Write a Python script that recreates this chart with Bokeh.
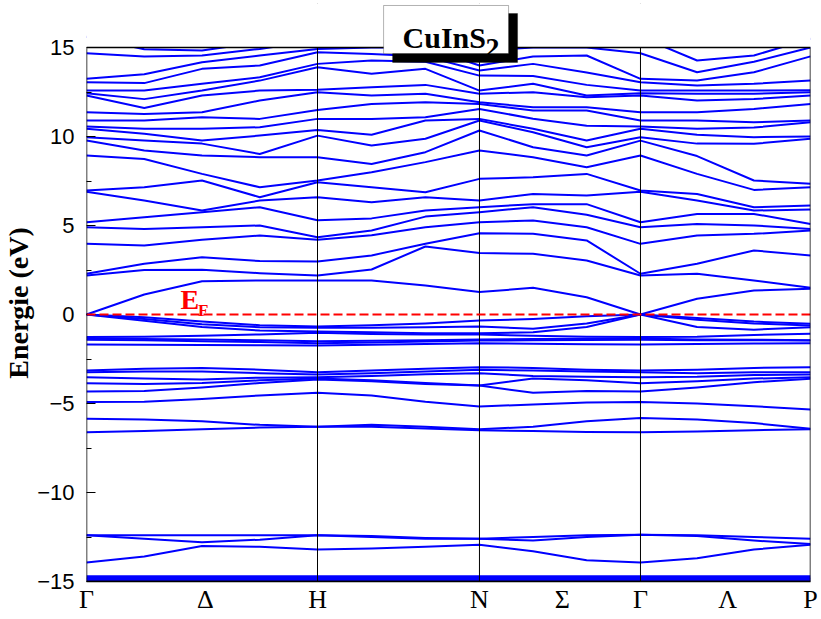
from bokeh.plotting import figure
from bokeh.models import ColumnDataSource, Range1d, FixedTicker, Span, Label, BoxAnnotation
from bokeh.embed import file_html
from bokeh.resources import INLINE

# ---------------- data ----------------
# k-path nodes (Γ, H, N, Γ, P) and label positions
k_nodes = [0.0, 1.0, 1.701, 2.398, 3.134]
k_label_pos = [0.0, 0.515, 1.0, 1.701, 2.06, 2.398, 2.775, 3.134]
k_labels = ["Γ", "Δ", "H", "N", "Σ", "Γ", "Λ", "P"]
# sampled k columns: Γ, 3 interior, H, 2 interior, N, 2 interior, Γ, 2 interior, P
k_cols = [0.0, 0.25, 0.5, 0.75, 1.0, 1.234, 1.467, 1.701, 1.933, 2.165, 2.398, 2.643, 2.889, 3.134]

# In 4d (flat, near -15 eV)
d_bands = [
    [-14.70] * 14,
    [-14.80] * 14,
    [-14.88] * 14,
    [-14.95] * 14,
]
# S 3s bands
s_bands = [
    [-12.40, -12.40, -12.40, -12.40, -12.40, -12.45, -12.55, -12.60, -12.50, -12.40, -12.38, -12.40, -12.50, -12.60],
    [-12.40, -12.60, -12.80, -12.65, -12.40, -12.50, -12.60, -12.60, -12.70, -12.50, -12.38, -12.45, -12.70, -12.90],
    [-13.93, -13.60, -13.00, -13.05, -13.20, -13.15, -13.05, -12.94, -13.30, -13.80, -13.93, -13.70, -13.20, -12.94],
]
# valence bands (-7 .. 0 eV)
v_bands = [
    [0.00, -0.15, -0.40, -0.60, -0.67, -0.60, -0.50, -0.34, -0.25, -0.10, 0.00, -0.20, -0.40, -0.52],
    [0.00, -0.25, -0.55, -0.72, -0.75, -0.75, -0.72, -0.67, -0.80, -0.50, 0.00, -0.30, -0.50, -0.62],
    [0.00, -0.35, -0.70, -0.90, -0.95, -1.00, -1.05, -1.05, -1.00, -0.70, 0.00, -0.70, -0.85, -0.71],
    [-1.27, -1.25, -1.20, -1.12, -1.03, -1.10, -1.12, -1.12, -1.20, -1.25, -1.27, -1.25, -1.15, -1.08],
    [-1.35, -1.38, -1.40, -1.45, -1.50, -1.48, -1.45, -1.40, -1.38, -1.36, -1.35, -1.40, -1.42, -1.44],
    [-1.42, -1.45, -1.50, -1.55, -1.61, -1.58, -1.52, -1.46, -1.45, -1.43, -1.42, -1.44, -1.45, -1.46],
    [-1.68, -1.70, -1.72, -1.73, -1.74, -1.70, -1.66, -1.61, -1.65, -1.67, -1.68, -1.66, -1.63, -1.61],
    [-3.14, -3.05, -3.00, -3.10, -3.24, -3.15, -3.05, -2.96, -3.00, -3.10, -3.14, -3.10, -3.00, -2.96],
    [-3.24, -3.20, -3.20, -3.30, -3.37, -3.30, -3.20, -3.11, -3.15, -3.20, -3.24, -3.30, -3.25, -3.24],
    [-3.52, -3.60, -3.65, -3.55, -3.52, -3.45, -3.35, -3.30, -3.45, -3.50, -3.52, -3.50, -3.40, -3.37],
    [-3.86, -3.90, -3.85, -3.70, -3.60, -3.70, -3.85, -3.99, -3.60, -3.70, -3.86, -3.75, -3.60, -3.52],
    [-4.33, -4.30, -4.10, -3.85, -3.65, -3.75, -3.90, -3.99, -4.40, -4.30, -4.33, -4.10, -3.80, -3.61],
    [-4.92, -4.90, -4.75, -4.55, -4.40, -4.55, -4.90, -5.17, -5.05, -4.95, -4.92, -5.00, -5.15, -5.34],
    [-5.86, -5.90, -6.00, -6.20, -6.30, -6.20, -6.30, -6.45, -6.30, -6.00, -5.82, -5.90, -6.10, -6.42],
    [-6.61, -6.55, -6.45, -6.35, -6.30, -6.30, -6.40, -6.50, -6.55, -6.60, -6.61, -6.58, -6.50, -6.45],
]
# conduction bands (0 .. 15 eV): sorted energies read at each k column
cb_G  = [0.00, 2.19, 2.29, 3.97, 4.90, 5.18, 6.90, 6.97, 8.93, 9.77, 9.96, 10.43, 10.56, 10.90, 11.36, 12.30, 12.43, 12.58, 13.05, 13.24, 14.68, 15.60]
cb_c1 = [1.12, 2.50, 2.85, 3.88, 4.81, 5.47, 6.40, 7.15, 8.74, 9.21, 9.77, 10.15, 10.43, 10.90, 11.27, 11.60, 12.10, 12.58, 13.00, 13.50, 14.50, 14.90]
cb_c2 = [1.87, 2.51, 3.22, 4.20, 4.90, 5.75, 5.84, 7.53, 7.90, 8.93, 9.60, 9.77, 10.43, 11.08, 11.36, 12.30, 12.58, 12.96, 13.80, 14.17, 14.55, 14.83]
cb_c3 = [1.91, 2.32, 3.00, 4.44, 5.00, 6.03, 6.40, 6.59, 7.15, 8.84, 9.02, 10.05, 10.52, 10.99, 12.02, 12.58, 13.14, 13.33, 13.99, 14.55, 14.92, 15.30]
cb_H  = [1.91, 2.19, 2.98, 4.20, 4.34, 5.30, 6.59, 7.43, 7.53, 8.84, 10.05, 10.37, 10.99, 11.49, 12.49, 12.62, 13.89, 14.08, 14.73, 14.92, 15.40, 15.80]
cb_c5 = [1.91, 2.53, 3.32, 4.45, 4.72, 5.40, 6.31, 7.15, 7.99, 8.46, 9.49, 10.10, 10.99, 11.83, 12.30, 12.77, 13.52, 14.27, 14.64, 15.00, 15.40, 15.80]
cb_c6 = [1.63, 3.82, 3.97, 4.90, 5.50, 5.84, 6.59, 6.87, 8.56, 9.12, 9.87, 10.90, 11.08, 11.93, 12.40, 12.90, 13.80, 14.20, 14.50, 15.00, 15.40, 15.80]
cb_N  = [1.26, 3.45, 4.57, 5.18, 5.75, 6.03, 6.40, 7.62, 9.21, 10.34, 10.90, 10.99, 11.55, 11.83, 11.93, 12.40, 12.58, 13.42, 13.71, 13.99, 14.83, 15.50]
cb_c8 = [1.50, 3.41, 4.53, 5.28, 6.03, 6.20, 6.77, 7.71, 8.84, 9.40, 10.24, 10.43, 11.00, 11.46, 11.64, 12.49, 12.96, 13.40, 14.08, 14.50, 15.00, 15.50]
cb_c9 = [0.97, 3.03, 4.16, 4.90, 5.60, 6.20, 6.68, 7.90, 8.27, 8.93, 9.40, 9.77, 10.60, 11.46, 11.64, 12.20, 12.30, 12.90, 13.60, 14.55, 15.00, 15.50]
cb_c11 = [0.88, 2.29, 2.85, 4.44, 5.09, 5.65, 6.40, 6.77, 7.90, 8.90, 9.60, 10.10, 10.43, 10.90, 11.36, 12.02, 12.40, 12.58, 12.86, 13.14, 13.61, 14.27]
cb_c12 = [1.35, 1.91, 3.60, 4.53, 5.00, 5.65, 5.84, 6.03, 7.00, 7.53, 9.59, 9.96, 10.50, 10.80, 11.55, 12.10, 12.40, 12.58, 12.96, 13.61, 14.20, 14.55]
cb_P  = [1.44, 1.50, 3.32, 4.72, 4.81, 5.09, 5.90, 6.12, 7.15, 7.34, 9.87, 10.00, 10.80, 10.90, 11.83, 12.30, 12.49, 12.60, 13.14, 14.50, 15.00, 15.50]

cb_columns = [cb_G, cb_c1, cb_c2, cb_c3, cb_H, cb_c5, cb_c6, cb_N, cb_c8, cb_c9, cb_G, cb_c11, cb_c12, cb_P]
c_bands = [list(band) for band in zip(*cb_columns)]

y_ticks = [-15, -10, -5, 0, 5, 10, 15]
y_minor = [-12.5, -7.5, -2.5, 2.5, 7.5, 12.5]
E_min, E_max = -15, 15

all_bands = d_bands + s_bands + v_bands + c_bands
src = ColumnDataSource(data=dict(xs=[k_cols] * len(all_bands), ys=all_bands))

# ---------------- figure ----------------
# frame extends above E_max so that the title box can overlap the top border;
# the part above E_max is covered in white.
PX_PER_EV = 17.8
TOP_PAD_PX = 44
p = figure(width=821, height=619, output_backend="svg", toolbar_location=None,
           x_range=Range1d(k_nodes[0], k_nodes[-1]),
           y_range=Range1d(E_min, E_max + TOP_PAD_PX / PX_PER_EV),
           min_border_left=86, min_border_right=11, min_border_top=3, min_border_bottom=38)
p.grid.visible = False
p.outline_line_color = None
p.background_fill_color = "white"
p.border_fill_color = "white"

p.multi_line(xs="xs", ys="ys", source=src, line_color="#0000ff", line_width=2, line_join="round")

for kx in k_nodes[1:-1]:
    p.add_layout(Span(location=kx, dimension="height", line_color="black", line_width=1))

p.add_layout(Span(location=0, dimension="width", line_color="#ff0000", line_width=2, line_dash="9 4"))

# white cover above the energy window, then frame border
p.add_layout(BoxAnnotation(left=-1, right=5, bottom=E_max, top=E_max + 10,
                           fill_color="white", fill_alpha=1.0, line_color=None))
p.add_layout(BoxAnnotation(left=k_nodes[0], right=k_nodes[-1], bottom=E_min, top=E_max,
                           fill_alpha=0.0, line_color="black", line_width=1.5, line_alpha=1.0))

# y axis
ya = p.yaxis[0]
ya.ticker = FixedTicker(ticks=y_ticks, minor_ticks=y_minor)
ya.major_tick_in = 9
ya.major_tick_out = 0
ya.minor_tick_in = 5
ya.minor_tick_out = 0
ya.axis_line_color = None
ya.major_label_text_font = "Liberation Sans"
ya.major_label_text_font_size = "22px"
ya.major_label_text_color = "black"
ya.major_label_standoff = 12
ya.axis_label = "Energie (eV)\u00a0\u00a0\u00a0"
ya.axis_label_text_font = "Liberation Serif"
ya.axis_label_text_font_style = "bold"
ya.axis_label_text_font_size = "28px"
ya.axis_label_text_color = "black"
ya.axis_label_standoff = 0

# x axis
xa = p.xaxis[0]
xa.ticker = FixedTicker(ticks=k_label_pos)
xa.major_label_overrides = {kv: lab for kv, lab in zip(k_label_pos, k_labels)}
xa.major_tick_in = 0
xa.major_tick_out = 0
xa.minor_tick_in = 0
xa.minor_tick_out = 0
xa.axis_line_width = 1.5
xa.major_label_text_font = "Liberation Serif"
xa.major_label_text_font_size = "26px"
xa.major_label_text_color = "black"
xa.major_label_standoff = 3

# E_F label
p.add_layout(Label(x=0.407, y=0.85, text="E", text_color="#ff0000", text_font="Liberation Serif",
                   text_font_style="bold", text_font_size="28px", text_baseline="alphabetic"))
p.add_layout(Label(x=0.483, y=0.22, text="F", text_color="#ff0000", text_font="Liberation Serif",
                   text_font_style="bold", text_font_size="17px", text_baseline="alphabetic"))

# title box with shadow (data coords inside the extended frame)
p.add_layout(BoxAnnotation(left=1.325, right=1.866, bottom=14.16, top=16.91,
                           fill_color="black", fill_alpha=1.0, line_color="black"))
p.add_layout(BoxAnnotation(left=1.286, right=1.827, bottom=14.66, top=17.36,
                           fill_color="white", fill_alpha=1.0, line_color="black", line_width=1))
p.add_layout(Label(x=1.368, y=15.56, text="CuInS", text_font="Liberation Serif", text_font_style="bold",
                   text_font_size="30px", text_color="black", text_baseline="alphabetic"))
p.add_layout(Label(x=1.727, y=15.0, text="2", text_font="Liberation Serif", text_font_style="bold",
                   text_font_size="28px", text_color="black", text_baseline="alphabetic"))

open("out.html", "w").write(file_html(p, INLINE))
